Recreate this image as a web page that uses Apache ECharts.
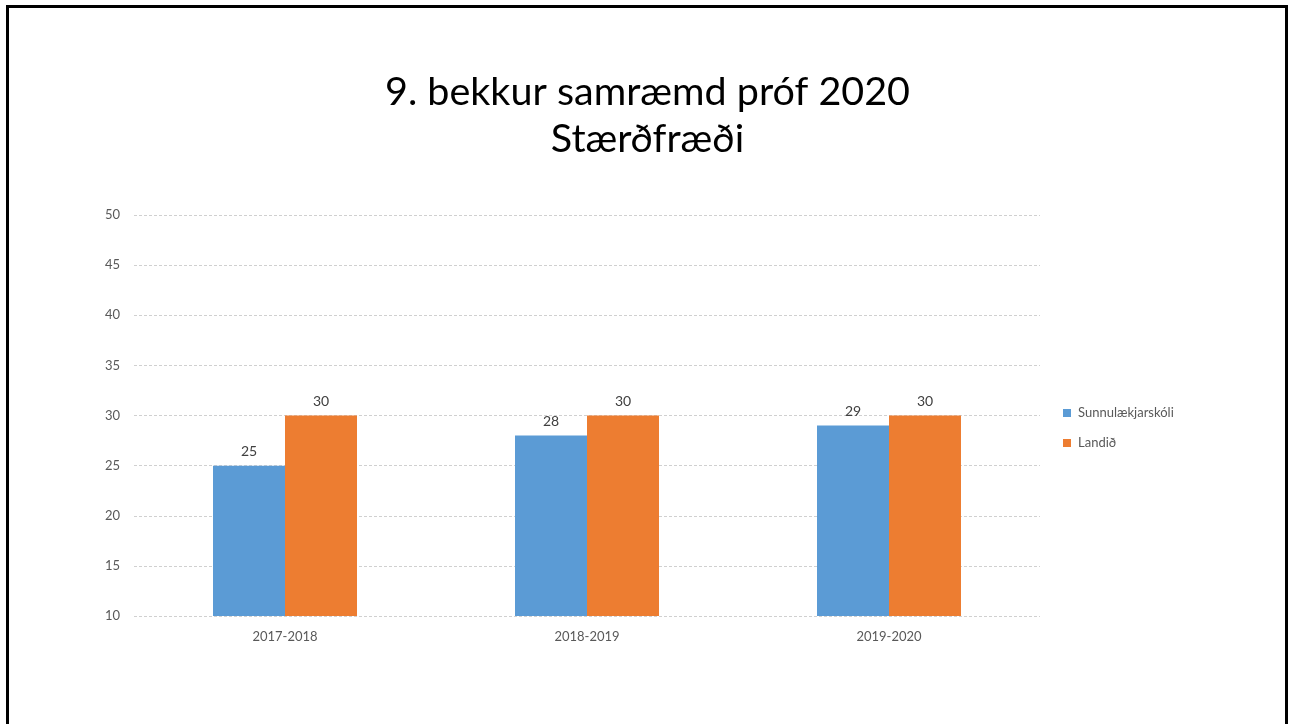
<!DOCTYPE html>
<html><head><meta charset="utf-8">
<script src="https://cdn.jsdelivr.net/npm/echarts@6/dist/echarts.min.js"></script>
<style>
html,body{margin:0;padding:0;background:#fff;width:1295px;height:724px;overflow:hidden;}
#frame{position:absolute;left:6px;top:5px;width:1276px;height:800px;border:3px solid #000;box-sizing:content-box;}
#c{position:absolute;left:0;top:0;width:1295px;height:724px;}
</style></head>
<body>
<div id="frame"></div>
<div id="c"></div>
<script>
const categories = ['2017-2018', '2018-2019', '2019-2020'];
const seriesNames = ['Sunnulækjarskóli', 'Landið'];
const schoolValues = [25, 28, 29];
const nationalValues = [30, 30, 30];
const yTicks = [10, 15, 20, 25, 30, 35, 40, 45, 50];
const titleLines = ['9. bekkur samræmd próf 2020', 'Stærðfræði'];

const chart = echarts.init(document.getElementById('c'), null, {renderer: 'canvas'});
const font = 'Lato, "Open Sans", sans-serif';
const labelStyle = {show: true, position: 'top', color: '#404040', fontSize: 14, fontFamily: font, distance: 7};
chart.setOption({
  animation: false,
  title: {
    text: titleLines.join('\n'),
    left: 'center', top: 64,
    textStyle: {fontFamily: font, fontSize: 39.5, fontWeight: 'normal', color: '#000', lineHeight: 47}
  },
  legend: {
    orient: 'vertical', left: 1058, top: 400,
    itemWidth: 8, itemHeight: 8, itemGap: 14, icon: 'rect',
    textStyle: {color: '#595959', fontSize: 13, lineHeight: 16, fontFamily: font, padding: [0,0,0,2]},
    data: seriesNames
  },
  grid: {left: 134, width: 906, top: 215, height: 401},
  xAxis: {
    type: 'category', data: categories,
    axisLine: {show: false}, axisTick: {show: false},
    axisLabel: {color: '#595959', fontSize: 13, fontFamily: font, margin: 14}
  },
  yAxis: {
    type: 'value', min: yTicks[0], max: yTicks[yTicks.length-1], interval: 5,
    axisLine: {show: false}, axisTick: {show: false},
    axisLabel: {color: '#595959', fontSize: 13, fontFamily: font, margin: 14},
    splitLine: {lineStyle: {color: '#d0d0d0', type: [3, 2], width: 1}}
  },
  series: [
    {name: seriesNames[0], type: 'bar', data: schoolValues, barWidth: 72, barGap: '0%',
     itemStyle: {color: '#5B9BD5'}, label: labelStyle},
    {name: seriesNames[1], type: 'bar', data: nationalValues, barWidth: 72, barGap: '0%',
     itemStyle: {color: '#ED7D31'}, label: labelStyle}
  ]
});
</script>
</body></html>
